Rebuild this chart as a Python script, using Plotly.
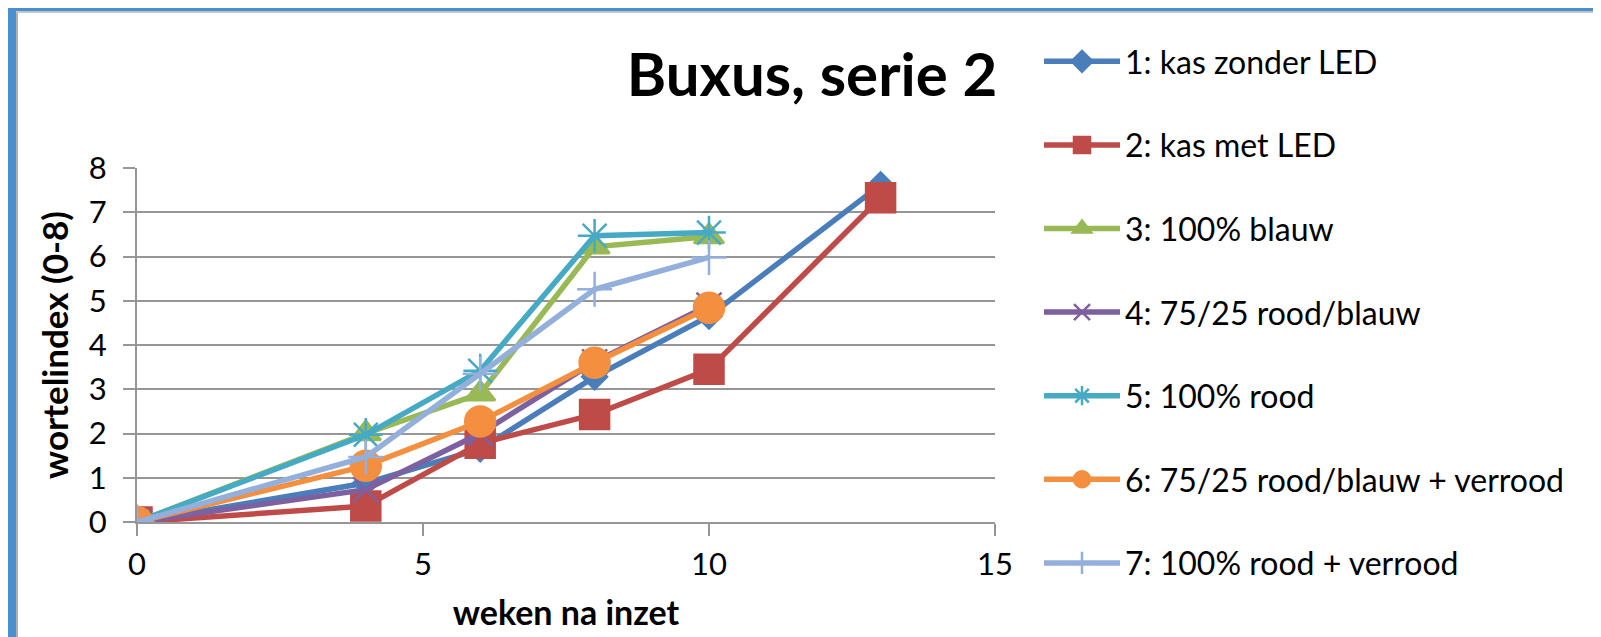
import plotly.graph_objects as go

weeks_long = [0, 4, 6, 8, 10, 13]
weeks_short = [0, 4, 6, 8, 10]

names = [
    "1: kas zonder LED",
    "2: kas met LED",
    "3: 100% blauw",
    "4: 75/25 rood/blauw",
    "5: 100% rood",
    "6: 75/25 rood/blauw + verrood",
    "7: 100% rood + verrood",
]

s1 = [0, 0.88, 1.65, 3.28, 4.65, 7.62]
s2 = [0, 0.36, 1.78, 2.43, 3.45, 7.33]
s3 = [0, 2.0, 2.9, 6.22, 6.45]
s4 = [0, 0.73, 2.0, 3.62, 4.9]
s5 = [0, 1.97, 3.42, 6.47, 6.54]
s6 = [0, 1.27, 2.27, 3.6, 4.84]
s7 = [0, 1.47, 3.35, 5.26, 5.98]

series = [
    (names[0], weeks_long, s1, "#4A7EBB", "diamond", 19),
    (names[1], weeks_long, s2, "#BE4B48", "square", 29),
    (names[2], weeks_short, s3, "#98B954", "triangle-up", 26),
    (names[3], weeks_short, s4, "#7D60A0", "x-thin-open", 25),
    (names[4], weeks_short, s5, "#46AAC5", "asterisk-open", 28),
    (names[5], weeks_short, s6, "#F38F3F", "circle", 30),
    (names[6], weeks_short, s7, "#93AFDB", "cross-thin-open", 25),
]

FONT = "Lato"
L, R, T, B = 129, 614, 160, 123
W_FIG, H_FIG = 1601, 637
PW = W_FIG - L - R
PH = H_FIG - T - B

fig = go.Figure()
for i, (nm, xs, ys, col, sym, sz) in enumerate(series):
    fig.add_trace(go.Scatter(
        x=xs, y=ys, name=nm, mode="lines+markers",
        legendgroup=f"g{i}",
        line=dict(color=col, width=5.5),
        marker=dict(symbol=sym, size=sz, color=col,
                    line=dict(color=col, width=2.5)),
    ))

def px_x(p):
    return (p - L) / PW

def px_y(p):
    return (H_FIG - B - p) / PH

border = "#4A90D0"
shapes = [
    dict(type="rect", xref="paper", yref="paper", x0=px_x(0), x1=px_x(8),
         y0=px_y(637), y1=px_y(0), fillcolor=border, line=dict(width=0), layer="above"),
    dict(type="rect", xref="paper", yref="paper", x0=px_x(0), x1=px_x(1601),
         y0=px_y(3), y1=px_y(0), fillcolor=border, line=dict(width=0), layer="above"),
    dict(type="rect", xref="paper", yref="paper", x0=px_x(8), x1=px_x(10),
         y0=px_y(637), y1=px_y(3), fillcolor="#B0B0B0", line=dict(width=0), layer="above"),
    dict(type="rect", xref="paper", yref="paper", x0=px_x(8), x1=px_x(1601),
         y0=px_y(5), y1=px_y(3), fillcolor="#C4C4C4", line=dict(width=0), layer="above"),
]

grid = "#969696"
fig.update_layout(
    width=W_FIG, height=H_FIG,
    margin=dict(l=L, r=R, t=T, b=B, pad=0),
    paper_bgcolor="white", plot_bgcolor="white",
    font=dict(family=FONT, color="#000000"),
    title=dict(text="<b>Buxus, serie 2</b>", x=804 / W_FIG, y=1 - 67 / H_FIG,
               xanchor="center", yanchor="middle",
               font=dict(family=FONT, size=60, color="#000000")),
    xaxis=dict(range=[0, 15], dtick=5, tick0=0, showgrid=False,
               showline=True, linecolor=grid, linewidth=2,
               ticks="outside", ticklen=12, tickcolor=grid, tickwidth=2,
               tickfont=dict(size=31), ticklabelstandoff=2,
               zeroline=False,
               title=dict(text="<b>weken na inzet</b>", font=dict(size=34), standoff=20)),
    yaxis=dict(range=[0, 8], dtick=1, tick0=0, showgrid=True, gridcolor=grid, gridwidth=2,
               showline=True, linecolor=grid, linewidth=2,
               ticks="outside", ticklen=12, tickcolor=grid, tickwidth=2,
               tickfont=dict(size=31), ticklabelstandoff=10,
               zeroline=False,
               title=dict(text="<b>wortelindex (0-8)</b>", font=dict(size=35), standoff=10)),
    legend=dict(x=px_x(1031), y=px_y(26), xanchor="left", yanchor="top",
                font=dict(size=32), tracegroupgap=39, itemwidth=76,
                maxheight=637,
                bgcolor="rgba(0,0,0,0)"),
    shapes=shapes,
    showlegend=True,
)

fig.write_html("out.html")
